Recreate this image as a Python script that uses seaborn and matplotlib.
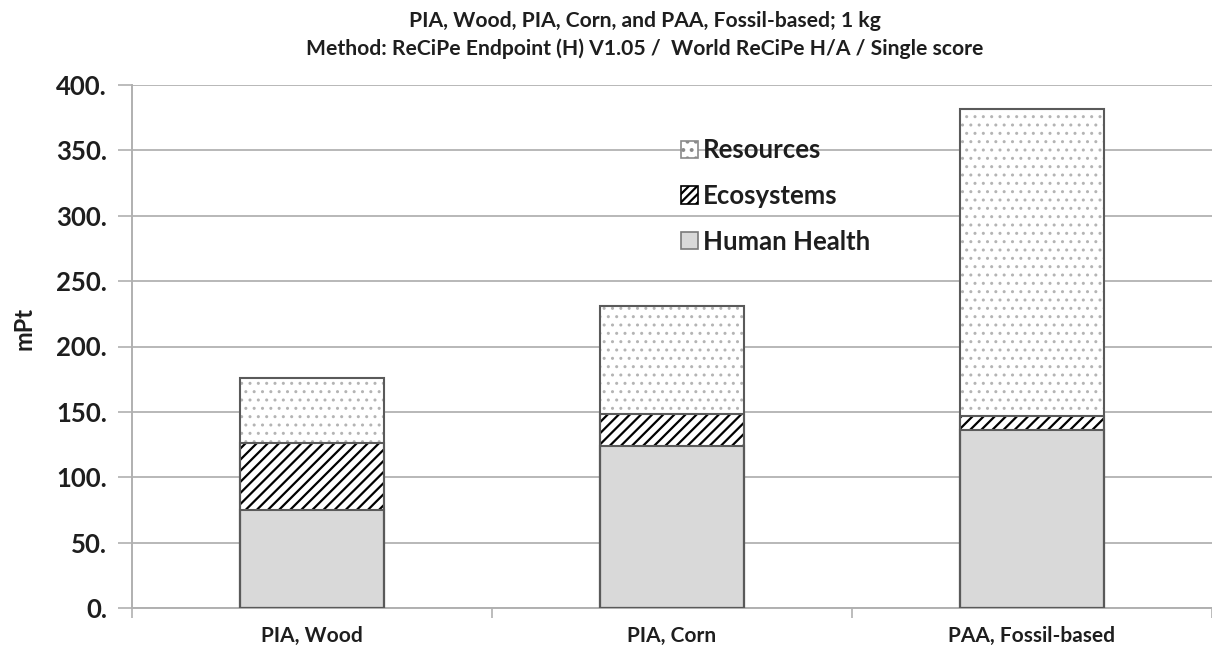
import matplotlib
matplotlib.use("Agg")
import matplotlib.pyplot as plt
from matplotlib.patches import Patch
import seaborn as sns
import numpy as np

# Single-score results per impact category (mPt)
products = ["PIA, Wood", "PIA, Corn", "PAA, Fossil-based"]
human_health = [75, 124, 136]
ecosystems = [51, 24, 11]
resources = [50, 83, 235]
y_ticks = [0, 50, 100, 150, 200, 250, 300, 350, 400]
y_tick_labels = ["0.", "50.", "100.", "150.", "200.", "250.", "300.", "350.", "400."]

sns.set_theme(style="white")
plt.rcParams["font.family"] = ["Lato", "DejaVu Sans"]
plt.rcParams["font.weight"] = "bold"
plt.rcParams["hatch.linewidth"] = 1.6

hh = np.array(human_health, dtype=float)
eco_top = hh + np.array(ecosystems, dtype=float)
total = eco_top + np.array(resources, dtype=float)

fig = plt.figure(figsize=(12.12, 6.5), dpi=100)
ax = fig.add_axes([132 / 1212, 1 - 608 / 650, 1080 / 1212, 523 / 650])

EDGE = "#5a5a5a"
BAR_W = 0.4
TXT = "#1e1e1e"

# Stacked bars: draw cumulative heights from the top segment down
sns.barplot(x=products, y=total, ax=ax, color="white", edgecolor="#b4b4b4",
            linewidth=0, hatch="..", width=BAR_W, zorder=2)
n_dot = len(ax.patches)
for p in ax.patches[:n_dot]:
    if hasattr(p, "set_hatch_linewidth"):
        p.set_hatch_linewidth(1.0)
sns.barplot(x=products, y=eco_top, ax=ax, color="white", edgecolor="black",
            linewidth=0, hatch="///", width=BAR_W, zorder=3)
for p in ax.patches[n_dot:]:
    if hasattr(p, "set_hatch_linewidth"):
        p.set_hatch_linewidth(1.6)
sns.barplot(x=products, y=hh, ax=ax, color="#d9d9d9", edgecolor=EDGE,
            linewidth=1.5, width=BAR_W, zorder=4, saturation=1)
# segment outlines
sns.barplot(x=products, y=eco_top, ax=ax, color=EDGE, fill=False,
            linewidth=1.5, width=BAR_W, zorder=5)
sns.barplot(x=products, y=total, ax=ax, color=EDGE, fill=False,
            linewidth=1.5, width=BAR_W, zorder=5)

ax.set_xlim(-0.5, 2.5)
ax.set_ylim(0, 400)
ax.set_yticks(y_ticks)
ax.set_yticklabels(y_tick_labels, fontsize=18.5, fontweight="bold", color=TXT)
ax.yaxis.grid(True, color="#b8b8b8", linewidth=1.4, zorder=0)
ax.set_axisbelow(True)
ax.tick_params(axis="y", which="major", direction="out", length=10, width=1.2,
               color="#b0b0b0", left=True, pad=8)
ax.set_xticks([0, 1, 2])
ax.set_xticklabels(products, fontsize=15, fontweight="bold", color=TXT)
ax.set_xticks([-0.5, 0.5, 1.5, 2.5], minor=True)
ax.tick_params(axis="x", which="major", length=0, pad=13)
ax.tick_params(axis="x", which="minor", direction="out", length=7, width=1.2,
               color="#b0b0b0", bottom=True)
ax.set_xlabel("")
ax.set_ylabel("mPt", fontsize=17, fontweight="bold", color=TXT)
ax.yaxis.set_label_coords(-0.089, 0.535)

for side in ["top", "right"]:
    ax.spines[side].set_visible(False)
for side in ["left", "bottom"]:
    ax.spines[side].set_color("#b0b0b0")
    ax.spines[side].set_linewidth(1.4)

handles = [
    Patch(facecolor="white", edgecolor="#8a8a8a", hatch="..", linewidth=1.2, label="Resources"),
    Patch(facecolor="white", edgecolor="black", hatch="////", linewidth=1.2, label="Ecosystems"),
    Patch(facecolor="#d9d9d9", edgecolor="#7a7a7a", linewidth=1.2, label="Human Health"),
]
leg = ax.legend(handles=handles, loc="upper left", bbox_to_anchor=(0.487, 0.942),
                frameon=False, handlelength=0.65, handleheight=0.65, handletextpad=0.2,
                labelspacing=0.84, prop={"family": "Lato", "weight": "bold", "size": 18.5})
for t in leg.get_texts():
    t.set_color(TXT)

fig.text(0.532, 0.968, "PIA, Wood, PIA, Corn, and PAA, Fossil-based; 1 kg",
         ha="center", va="center", fontsize=15.2, fontweight="bold", color=TXT)
fig.text(0.532, 0.925, "Method: ReCiPe Endpoint (H) V1.05 /  World ReCiPe H/A / Single score",
         ha="center", va="center", fontsize=15.2, fontweight="bold", color=TXT)

fig.savefig("out.png", dpi=100)
